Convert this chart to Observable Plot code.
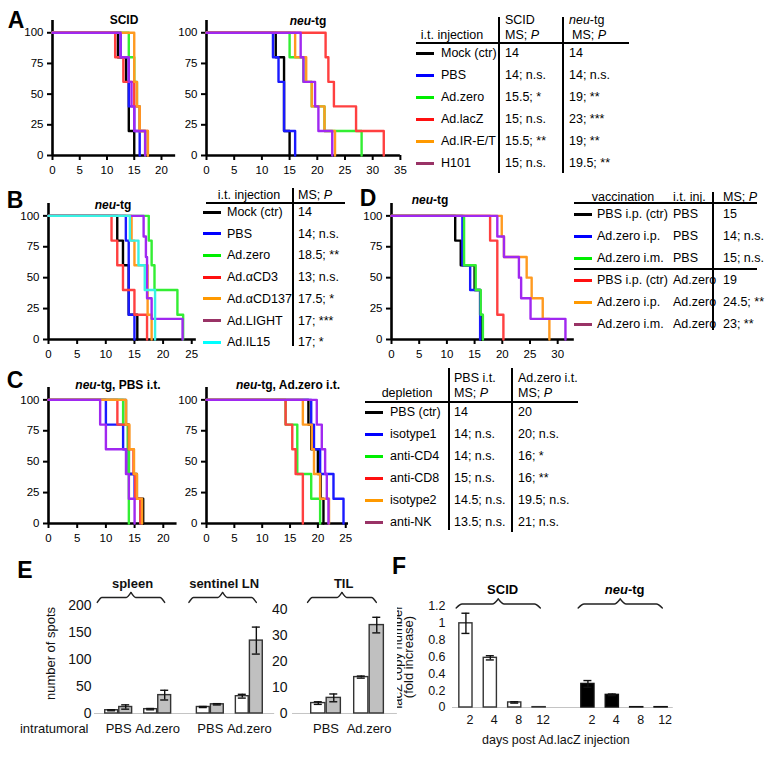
<!DOCTYPE html>
<html><head><meta charset="utf-8">
<script src="https://cdn.jsdelivr.net/npm/d3@7"></script>
<script src="https://cdn.jsdelivr.net/npm/@observablehq/plot@0.6"></script>
<style>
body{margin:0;background:#fff;}
#fig{position:relative;width:774px;height:758px;overflow:hidden;font-family:"Liberation Sans",Arial,Helvetica,sans-serif;color:#000;background:#fff;}
</style></head><body><div id="fig"></div>
<script>
const FONT = '"Liberation Sans", Arial, Helvetica, sans-serif';
const fig = document.getElementById("fig");

// ---------- colours ----------
const curveColors = ["#000000","#1a1aff","#33ee33","#ff4040","#ff9a20","#a028f0"];
const cyanCurve = "#38f2e4";
const swatchColors = ["#000000","#0000ff","#00ee00","#ff1010","#ff9900","#993366"];
const cyanSwatch = "#00ffff";

// ---------- panel A data (time, % survival after each death) ----------
const aNames = ["Mock (ctr)","PBS","Ad.zero","Ad.lacZ","Ad.IR-E/T","H101"];
const aScidMS = ["14","14; n.s.","15.5; *","15; n.s.","15.5; **","15; n.s."];
const aNeuMS = ["14","14; n.s.","19; **","23; ***","19; **","19.5; **"];
const aScidSteps = [
  [[12,80],[13.5,60],[14,20],[15,0]],
  [[12.5,80],[14,40],[15,20],[16,0]],
  [[14,80],[15,60],[15.5,40],[16,20],[17,0]],
  [[11.5,80],[13,60],[15,40],[16,20],[17.5,0]],
  [[15,60],[15.5,40],[16,20],[17.5,0]],
  [[12.5,80],[14,60],[14.5,40],[15,20],[17,0]]
];
const aNeuSteps = [
  [[12.5,80],[14,20],[15,0]],
  [[12,80],[13,60],[14,20],[16,0]],
  [[15,80],[17.5,60],[19,40],[21.3,20],[28,0]],
  [[21.5,80],[22,60],[23,40],[27,20],[32,0]],
  [[16,80],[18,60],[19,40],[21.3,20],[23.2,0]],
  [[17,80],[17.5,60],[19.6,40],[20.2,20],[22.7,0]]
];

// ---------- panel B ----------
const bNames = ["Mock (ctr)","PBS","Ad.zero","Ad.\u03b1CD3","Ad.\u03b1CD137","Ad.LIGHT","Ad.IL15"];
const bMS = ["14","14; n.s.","18.5; **","13; n.s.","17.5; *","17; ***","17; *"];
const bSteps = [
  [[12,80],[13,60],[14,20],[15.5,0]],
  [[13.5,80],[14,20],[15,0]],
  [[17.5,80],[18,60],[18.5,40],[22.5,20],[23.5,0]],
  [[11,80],[12,60],[13,40],[15,20],[17.2,0]],
  [[14.5,80],[15,60],[17.3,20],[18,0]],
  [[16.6,83.3],[17,66.7],[17.2,33.3],[18,16.7],[23.4,0]],
  [[14.2,80],[15.7,60],[16.8,40],[18.6,0]]
];

// ---------- panel D ----------
const dVacc = ["PBS i.p. (ctr)","Ad.zero i.p.","Ad.zero i.m.","PBS i.p. (ctr)","Ad.zero i.p.","Ad.zero i.m."];
const dInj = ["PBS","PBS","PBS","Ad.zero","Ad.zero","Ad.zero"];
const dMS = ["15","14; n.s.","15; n.s.","19","24.5; **","23; **"];
const dSteps = [
  [[11.5,80],[12.5,60],[15,40],[16,20],[16.3,0]],
  [[12.8,60],[14.2,40],[16,0]],
  [[13.1,60],[15.2,40],[16.1,20],[16.5,0]],
  [[17.8,80],[19.1,20],[20.2,0]],
  [[19.9,83.3],[20.3,66.7],[24.4,50],[25.3,33.3],[27.3,16.7],[28.5,0]],
  [[19.1,83.3],[20.3,66.7],[23,50],[23.4,33.3],[25.1,16.7],[31.4,0]]
];

// ---------- panel C ----------
const cNames = ["PBS (ctr)","isotype1","anti-CD4","anti-CD8","isotype2","anti-NK"];
const cPbsMS = ["14","14; n.s.","14; n.s.","15; n.s.","14.5; n.s.","13.5; n.s."];
const cZeroMS = ["20","20; n.s.","16; *","16; **","19.5; n.s.","21; n.s."];
const cPbsSteps = [
  [[13.5,80],[14,40],[15.4,20],[16.5,0]],
  [[10,80],[13,60],[14,40],[15,20],[16,0]],
  [[13,80],[13.8,60],[14,0]],
  [[12,80],[14,60],[14.8,40],[15.1,20],[16,0]],
  [[13.5,80],[14.1,60],[14.9,40],[15.4,20],[16.3,0]],
  [[9,80],[10,60],[13.5,40],[14,20],[15,0]]
];
const cZeroSteps = [
  [[18.3,80],[18.8,60],[20,40],[20.5,20],[21,0]],
  [[18.8,80],[19.3,60],[20.4,40],[22.8,20],[24.6,0]],
  [[14.2,80],[16.3,40],[18.8,20],[20.4,0]],
  [[14.2,80],[15.4,60],[16,40],[17.3,0]],
  [[17.3,80],[18.9,60],[19.3,40],[20.4,20],[22,0]],
  [[19.8,80],[20.7,60],[21.3,40],[21.6,20],[21.9,0]]
];

// ---------- panel E ----------
const eTreat = ["PBS","Ad.zero"];
const spleenWhite = [6, 8],  spleenWhiteErr = [1, 1.2],  spleenGray = [12, 34], spleenGrayErr = [4, 9];
const lnWhite = [12, 32],    lnWhiteErr = [1, 3.5],      lnGray = [17, 135],    lnGrayErr = [1.2, 25];
const tilWhite = [4, 14],    tilWhiteErr = [0.5, 0.4],   tilGray = [6, 34],     tilGrayErr = [1.5, 3];

// ---------- panel F ----------
const fDays = [2, 4, 8, 12];
const fScid = [1.0, 0.59, 0.06, 0.004];
const fScidErr = [0.12, 0.025, 0.008, 0];
const fNeu = [0.28, 0.15, 0.004, 0.004];
const fNeuErr = [0.04, 0.01, 0, 0];

// ---------- helpers ----------
function el(css, html){ const d=document.createElement("div"); d.style.cssText=css; if(html!=null) d.innerHTML=html; fig.appendChild(d); return d; }
function txt(html, x, y, o={}) {
  const size=o.size||12.5, a=o.anchor||"start";
  const tx = a==="middle"?"-50%":a==="end"?"-100%":"0";
  return el(`position:absolute;left:${x}px;top:${y}px;transform:translate(${tx},-50%);white-space:nowrap;line-height:1;font-size:${size}px;${o.bold?"font-weight:bold;":""}${o.italic?"font-style:italic;":""}`, html);
}
function hline(x1,x2,y,w=1.5){ el(`position:absolute;left:${x1}px;top:${y-w/2}px;width:${x2-x1}px;height:${w}px;background:#000;`); }
function vline(x,y1,y2,w=1.5){ el(`position:absolute;left:${x-w/2}px;top:${y1}px;width:${w}px;height:${y2-y1}px;background:#000;`); }
function swatch(x,y,color){ el(`position:absolute;left:${x}px;top:${y-1.5}px;width:18px;height:3px;background:${color};`); }
function place(svg,left,top){ svg.style.position="absolute"; svg.style.left=left+"px"; svg.style.top=top+"px"; svg.style.background="none"; fig.appendChild(svg); }

function survival(series, colors, o) {
  const mr = 12, mb = 25, mt = 20;
  const width = o.ml + o.xMax*o.ppu + mr;
  const height = (o.y0 - o.top) + mb;
  const marks = [
    Plot.ruleX([0], {strokeWidth: 2.6}),
    Plot.ruleY([0], {strokeWidth: 2.6}),
    Plot.axisY({ticks:[0,25,50,75,100], tickSize:5, tickPadding:4, strokeWidth:2, label:null}),
    Plot.axisX({ticks:o.xTicks, tickSize:5, tickPadding:5, strokeWidth:2, label:null})
  ];
  series.forEach((steps,i)=>{
    const pts=[{t:0,s:100}, ...steps.map(([t,s])=>({t,s}))];
    marks.push(Plot.line(pts,{x:"t",y:"s",curve:"step-after",stroke:colors[i],strokeWidth:2.4}));
  });
  const svg = Plot.plot({width,height,marginLeft:o.ml,marginTop:mt,marginRight:mr,marginBottom:mb,
    x:{domain:[0,o.xMax]}, y:{domain:[0,110]},
    style:{background:"none",fontFamily:FONT,fontSize:"11.5px",color:"#000"},
    marks});
  place(svg,o.left,o.top);
}

function bracePts(id, x1, x2, yTip, yFlat, yPeak) {
  const w = x2 - x1, xc = (x1 + x2)/2, k = 0.07*w;
  return [
    {id:id+"L", x:x1, y:yTip},{id:id+"L", x:x1+k, y:yFlat},{id:id+"L", x:xc-k, y:yFlat},{id:id+"L", x:xc, y:yPeak},
    {id:id+"R", x:xc, y:yPeak},{id:id+"R", x:xc+k, y:yFlat},{id:id+"R", x:x2-k, y:yFlat},{id:id+"R", x:x2, y:yTip}
  ];
}

function eChart(groups, o) {
  const mr = 5, mb = 30;
  const width = o.ml + (o.xMax - o.xMin)*o.unit + mr;
  const height = (o.y0 - o.top) + mb;
  const pxY = (o.y0 - (o.top + o.mt)) / o.yMax;
  const above = px => o.yMax + px/pxY;
  const white=[], gray=[], labels=[], braces=[], titles=[];
  groups.forEach((g,gi)=>{
    eTreat.forEach((tr,ci)=>{
      const pos = ci + o.gap*gi;
      white.push({c: pos-0.18, x1: pos-0.345, x2: pos-0.015, v:g.white[ci], e:g.whiteErr[ci]});
      gray.push({c: pos+0.18, x1: pos+0.015, x2: pos+0.345, v:g.gray[ci], e:g.grayErr[ci]});
      labels.push({pos, text: tr});
    });
    const x1 = o.gap*gi - o.bl, x2 = o.gap*gi + 1 + o.br;
    braces.push(...bracePts(g.name, x1, x2, above(o.br_tip), above(o.br_flat), above(o.br_peak)));
    titles.push({x:(x1+x2)/2 + 0.04, y: above(o.br_title), text: g.name});
  });
  const all = white.concat(gray);
  const cap = 4/o.unit;
  const marks = [
    Plot.ruleY([0], {stroke:"#c4c4c4", strokeWidth:1}),
    Plot.rectY(white, {x1:"x1", x2:"x2", y1:0, y2:"v", fill:"#ffffff", stroke:"#333", strokeWidth:1.4}),
    Plot.rectY(gray, {x1:"x1", x2:"x2", y1:0, y2:"v", fill:"#c0c0c0", stroke:"#333", strokeWidth:1.4}),
    Plot.ruleX(all, {x:"c", y1:d=>d.v-d.e, y2:d=>d.v+d.e, strokeWidth:1.4, stroke:"#111"}),
    Plot.ruleY(all, {y:d=>d.v+d.e, x1:d=>d.c-cap, x2:d=>d.c+cap, strokeWidth:1.4, stroke:"#111"}),
    Plot.ruleY(all, {y:d=>d.v-d.e, x1:d=>d.c-cap, x2:d=>d.c+cap, strokeWidth:1.4, stroke:"#111"}),
    Plot.axisY({ticks:o.yTicks, tickSize:0, tickPadding:o.tp, label:null, fontSize:o.size}),
    Plot.text(labels, {x:"pos", y:0, dy:15, text:"text", fontSize:13, lineAnchor:"middle"}),
    Plot.text(titles, {x:"x", y:"y", text:"text", fontWeight:"bold", fontSize:13, lineAnchor:"middle"}),
    Plot.line(braces, {x:"x", y:"y", z:"id", curve:"monotone-x", stroke:"#222", strokeWidth:1.4})
  ];
  if (o.leftLabels) {
    marks.push(Plot.text(["intratumoral"], {frameAnchor:"bottom-left", text:d=>d, dx:-6, dy:15, textAnchor:"end", lineAnchor:"middle", fontSize:13}));
    marks.push(Plot.text(["number of spots"], {frameAnchor:"left", text:d=>d, rotate:-90, dx:-44, dy:-6, textAnchor:"middle", lineAnchor:"middle", fontSize:13}));
  }
  const svg = Plot.plot({width, height, marginLeft:o.ml, marginTop:o.mt, marginRight:mr, marginBottom:mb,
    x:{domain:[o.xMin,o.xMax], axis:null}, y:{domain:[0,o.yMax]},
    style:{background:"none", fontFamily:FONT, fontSize:o.size+"px", color:"#111"},
    marks});
  place(svg, o.left, o.top);
}

function fChart(o) {
  const groups = [
    {name:"SCID", vals:fScid, errs:fScidErr, fill:"#ffffff"},
    {name:"neu-tg", vals:fNeu, errs:fNeuErr, fill:"#000000"}
  ];
  const mr = 10, mb = 41;
  const width = o.ml + (o.xMax - o.xMin)*o.unit + mr;
  const height = (o.y0 - o.top) + mb;
  const pxY = (o.y0 - (o.top + o.mt)) / o.yMax;
  const above = px => o.yMax + px/pxY;
  const rows=[], braces=[];
  groups.forEach((g,gi)=>{
    fDays.forEach((d,i)=>{
      const pos = i + 5*gi;
      rows.push({pos, day:d, v:g.vals[i], e:g.errs[i], fill:g.fill});
    });
    const x1 = 5*gi - 0.4, x2 = 5*gi + 3.05;
    braces.push(...bracePts(g.name, x1, x2, above(-1.5), above(2.5), above(7.5)));
    const cx = o.left + o.ml + ((x1+x2)/2 + 0.2 - o.xMin)*o.unit;
    txt(g.name==="SCID" ? "SCID" : "<i>neu</i>-tg", cx, 589, {anchor:"middle", bold:true, size:13});
  });
  const errs = rows.filter(d=>d.e>0);
  const cap = 4/o.unit;
  const svg = Plot.plot({width, height, marginLeft:o.ml, marginTop:o.mt, marginRight:mr, marginBottom:mb,
    x:{domain:[o.xMin,o.xMax], axis:null}, y:{domain:[0,o.yMax]},
    style:{background:"none", fontFamily:FONT, fontSize:"12.5px", color:"#111"},
    marks:[
      Plot.ruleY([0], {stroke:"#c4c4c4", strokeWidth:1}),
      Plot.rectY(rows.filter(d=>d.fill==="#ffffff"), {x1:d=>d.pos-0.27, x2:d=>d.pos+0.27, y1:0, y2:"v", fill:"#ffffff", stroke:"#333", strokeWidth:1.4}),
      Plot.rectY(rows.filter(d=>d.fill==="#000000"), {x1:d=>d.pos-0.27, x2:d=>d.pos+0.27, y1:0, y2:"v", fill:"#000000", stroke:"#111", strokeWidth:1.4}),
      Plot.ruleX(errs, {x:"pos", y1:d=>d.v-d.e, y2:d=>d.v+d.e, strokeWidth:1.4, stroke:"#111"}),
      Plot.ruleY(errs, {y:d=>d.v+d.e, x1:d=>d.pos-cap, x2:d=>d.pos+cap, strokeWidth:1.4, stroke:"#111"}),
      Plot.ruleY(errs, {y:d=>d.v-d.e, x1:d=>d.pos-cap, x2:d=>d.pos+cap, strokeWidth:1.4, stroke:"#111"}),
      Plot.axisY({ticks:[0,0.2,0.4,0.6,0.8,1,1.2], tickFormat:d=>String(Math.round(d*10)/10), tickSize:0, tickPadding:7, label:null, fontSize:12.5}),
      Plot.text(rows, {x:"pos", y:0, dy:13, dx:4, text:d=>String(d.day), fontSize:12.5, lineAnchor:"middle"}),
      Plot.text(["days post Ad.lacZ injection"], {frameAnchor:"bottom", text:d=>d, dy:33, dx:-7, textAnchor:"middle", lineAnchor:"middle", fontSize:12.5}),
      Plot.text(["(fold increase)"], {frameAnchor:"left", text:d=>d, rotate:-90, dx:-44, textAnchor:"middle", lineAnchor:"middle", fontSize:13}),
      Plot.text(["lacZ copy number"], {frameAnchor:"left", text:d=>d, rotate:-90, dx:-55, textAnchor:"middle", lineAnchor:"middle", fontSize:13}),
      Plot.line(braces, {x:"x", y:"y", z:"id", curve:"monotone-x", stroke:"#222", strokeWidth:1.4})
    ]});
  place(svg, o.left, o.top);
}

// ---------- panel letters ----------
[["A",16,20],["B",15,200],["C",15,380],["D",368,198],["E",25,570],["F",399,566]]
  .forEach(([l,x,y])=>txt(l,x,y,{anchor:"middle",bold:true,size:23}));

// ---------- survival plots ----------
survival(aScidSteps, curveColors, {left:0, top:0, ml:52, y0:155, xMax:22.6, ppu:5.45, xTicks:[0,5,10,15,20]});
survival(aNeuSteps, curveColors, {left:154, top:0, ml:52, y0:155, xMax:35, ppu:5.54, xTicks:[0,5,10,15,20,25,30,35]});
survival(bSteps, curveColors.concat([cyanCurve]), {left:0, top:183, ml:48, y0:339, xMax:25.8, ppu:5.73, xTicks:[0,5,10,15,20,25]});
survival(dSteps, curveColors, {left:339, top:183, ml:52, y0:339, xMax:33, ppu:5.54, xTicks:[0,5,10,15,20,25,30]});
survival(cPbsSteps, curveColors, {left:0, top:367, ml:48, y0:523, xMax:22.4, ppu:5.74, xTicks:[0,5,10,15,20]});
survival(cZeroSteps, curveColors, {left:154, top:367, ml:52, y0:523, xMax:25.5, ppu:5.57, xTicks:[0,5,10,15,20,25]});

txt("SCID",124,20,{anchor:"middle",bold:true,size:12});
txt("<i>neu</i>-tg",308,21,{anchor:"middle",bold:true,size:12});
txt("<i>neu</i>-tg",113,205,{anchor:"middle",bold:true,size:12});
txt("<i>neu</i>-tg",430,200,{anchor:"middle",bold:true,size:12});
txt("<i>neu</i>-tg, PBS i.t.",118,385,{anchor:"middle",bold:true,size:12});
txt("<i>neu</i>-tg, Ad.zero i.t.",288,385,{anchor:"middle",bold:true,size:12});

// ---------- table A ----------
hline(416,629,43); vline(499,17,173); vline(563,17,173);
txt("i.t. injection",452,35,{anchor:"middle"});
txt("SCID",505,20); txt("MS; <i>P</i>",505,35);
txt("<i>neu</i>-tg",569,20); txt("MS; <i>P</i>",572,35);
aNames.forEach((n,i)=>{ const y=53+i*22; swatch(416,y,swatchColors[i]); txt(n,441,y); txt(aScidMS[i],505,y); txt(aNeuMS[i],569,y); });

// ---------- table B ----------
hline(206,345,203); vline(293,188,346);
txt("i.t. injection",249,195,{anchor:"middle"}); txt("MS; <i>P</i>",298,195);
const bSw = swatchColors.concat([cyanSwatch]);
bNames.forEach((n,i)=>{ const y=212+i*21.7; swatch(203,y,bSw[i]); txt(n,227,y); txt(bMS[i],298,y); });

// ---------- table D ----------
hline(574,757,203); hline(574,757,269); vline(713,192,330);
txt("vaccination",623,197,{anchor:"middle"}); txt("i.t. inj.",673,197); txt("MS; <i>P</i>",723,197);
dVacc.forEach((n,i)=>{ const y=214+i*22; swatch(574,y,swatchColors[i]); txt(n,597,y); txt(dInj[i],673,y); txt(dMS[i],723,y); });

// ---------- table C ----------
hline(365,578,402); vline(449,368,530); vline(512,368,532);
txt("depletion",407,393,{anchor:"middle"});
txt("PBS i.t.",454,378); txt("MS; <i>P</i>",454,393);
txt("Ad.zero i.t.",518,378); txt("MS; <i>P</i>",518,393);
cNames.forEach((n,i)=>{ const y=412+i*22; swatch(365,y,swatchColors[i]); txt(n,390,y); txt(cPbsMS[i],454,y); txt(cZeroMS[i],518,y); });

// ---------- panel E ----------
eChart([
  {name:"spleen", white:spleenWhite, whiteErr:spleenWhiteErr, gray:spleenGray, grayErr:spleenGrayErr},
  {name:"sentinel LN", white:lnWhite, whiteErr:lnWhiteErr, gray:lnGray, grayErr:lnGrayErr}
], {left:0, top:560, ml:94, mt:45, y0:713, yMax:200, yTicks:[0,50,100,150,200], unit:39, gap:2.35,
    xMin:-0.62, xMax:4.0, size:14, tp:3, bl:0.55, br:0.18, br_tip:3, br_flat:8, br_peak:13, br_title:22, leftLabels:true});
eChart([
  {name:"TIL", white:tilWhite, whiteErr:tilWhiteErr, gray:tilGray, grayErr:tilGrayErr}
], {left:250, top:560, ml:42, mt:49, y0:713, yMax:40, yTicks:[0,10,20,30,40], unit:43, gap:0,
    xMin:-0.78, xMax:1.66, size:14, tp:5, bl:0.43, br:0.17, br_tip:7, br_flat:12, br_peak:17, br_title:26, leftLabels:false});

// ---------- panel F ----------
fChart({left:397, top:560, ml:55, mt:46, y0:707, yMax:1.2, unit:24.4, xMin:-0.55, xMax:8.5});
</script></body></html>
